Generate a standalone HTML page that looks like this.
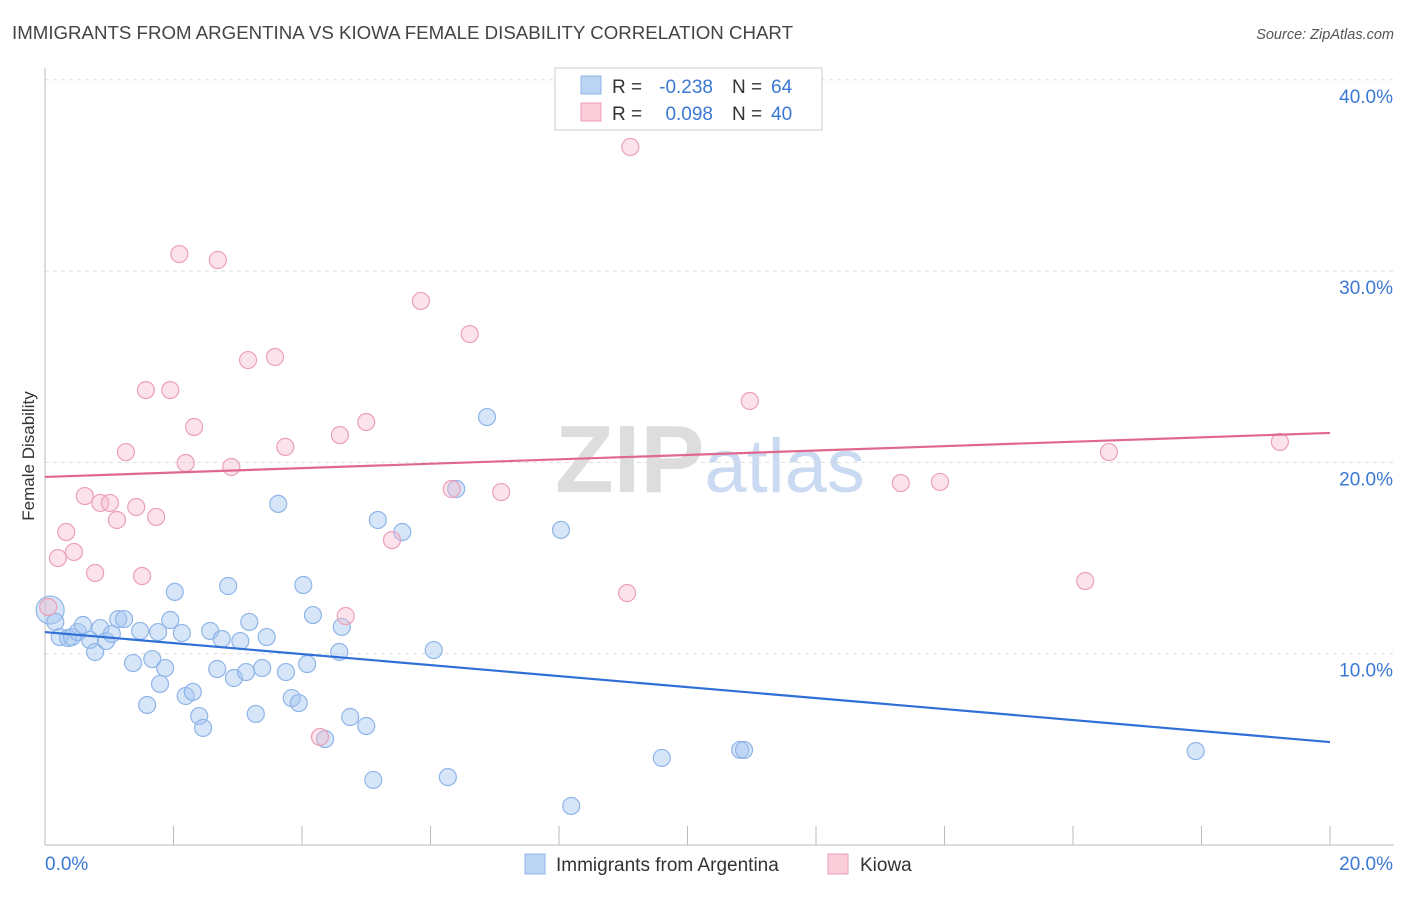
<!DOCTYPE html>
<html><head><meta charset="utf-8"><style>
body{margin:0;background:#fff;font-family:"Liberation Sans",sans-serif;}
svg text{font-family:"Liberation Sans",sans-serif;}
</style></head><body>
<svg id="chart" width="1406" height="892" viewBox="0 0 1406 892" xmlns="http://www.w3.org/2000/svg">
<text x="12" y="39" font-size="18" fill="#444" textLength="781" lengthAdjust="spacingAndGlyphs">IMMIGRANTS FROM ARGENTINA VS KIOWA FEMALE DISABILITY CORRELATION CHART</text>
<text x="1394" y="39" font-size="14.5" fill="#555" font-style="italic" text-anchor="end">Source: ZipAtlas.com</text>
<text x="555" y="492" font-size="96" fill="#ddd" font-family="Liberation Serif" font-weight="bold">ZIP<tspan fill="#c9daf2" font-family="Liberation Sans" font-weight="normal" font-size="76">atlas</tspan></text>
<g id="grid"></g>
<g id="axes"></g>
<g id="marks"></g>
<text transform="translate(34,456) rotate(-90)" font-size="17" fill="#333" text-anchor="middle">Female Disability</text>
<g font-size="19">
<rect x="555" y="68" width="267" height="62" fill="#fff" stroke="#ccc"/>
<rect x="581" y="76" width="20" height="18" fill="#bcd4f4" stroke="#8fb5e8"/>
<text x="612" y="93" fill="#333">R =</text>
<text x="713" y="93" fill="#3a78d4" text-anchor="end">-0.238</text>
<text x="732" y="93" fill="#333">N =</text>
<text x="771" y="93" fill="#3a78d4">64</text>
<rect x="581" y="103" width="20" height="18" fill="#f9cdd9" stroke="#eba0b8"/>
<text x="612" y="120" fill="#333">R =</text>
<text x="713" y="120" fill="#3a78d4" text-anchor="end">0.098</text>
<text x="732" y="120" fill="#333">N =</text>
<text x="771" y="120" fill="#3a78d4">40</text>
</g>
<g>
<rect x="525" y="854" width="20" height="20" fill="#bcd4f4" stroke="#8fb5e8"/>
<text x="556" y="871" font-size="19" fill="#333">Immigrants from Argentina</text>
<rect x="828" y="854" width="20" height="20" fill="#f9cdd9" stroke="#eba0b8"/>
<text x="860" y="871" font-size="19" fill="#333">Kiowa</text>
</g>
</svg>
<script>
const blueX=[0.08,0.16,0.23,0.36,0.42,0.51,0.59,0.70,0.78,0.86,0.95,1.04,1.14,1.23,1.37,1.48,1.59,1.67,1.76,1.79,1.87,1.95,2.02,2.13,2.19,2.30,2.40,2.46,2.57,2.68,2.75,2.85,2.94,3.04,3.13,3.18,3.28,3.38,3.45,3.63,3.75,3.84,3.95,4.02,4.08,4.17,4.36,4.58,4.62,4.75,5.00,5.11,5.18,5.56,6.05,6.27,6.40,6.88,8.03,8.19,9.60,10.82,10.88,17.91];
const blueY=[12.28,11.66,10.87,10.82,10.87,11.13,11.50,10.72,10.09,11.34,10.66,11.03,11.81,11.81,9.51,11.19,7.32,9.72,11.13,8.42,9.25,11.76,13.23,11.08,7.79,8.00,6.74,6.12,11.19,9.20,10.77,13.54,8.73,10.66,9.04,11.66,6.85,9.25,10.87,17.83,9.04,7.68,7.42,13.59,9.46,12.02,5.54,10.09,11.40,6.69,6.22,3.40,16.99,16.36,10.19,3.55,18.61,22.37,16.47,2.04,4.55,4.97,4.97,4.91];
const pinkX=[0.05,0.20,0.33,0.45,0.62,0.78,0.86,1.01,1.12,1.26,1.42,1.51,1.57,1.73,1.95,2.09,2.19,2.32,2.69,2.90,3.16,3.58,3.74,4.28,4.59,4.68,5.00,5.40,5.85,6.33,6.61,7.10,9.06,9.11,10.97,13.32,13.93,16.19,16.56,19.22];
const pinkY=[12.44,15.00,16.36,15.32,18.24,14.22,17.88,17.88,16.99,20.54,17.67,14.06,23.78,17.15,23.78,30.89,19.97,21.85,30.58,19.76,25.35,25.51,20.81,5.65,21.43,11.97,22.11,15.94,28.44,18.61,26.71,18.45,13.17,36.49,23.21,18.92,18.98,13.80,20.54,21.07];
const blueTrend=[11.13,5.38];
const pinkTrend=[19.24,21.54];
const yTicks=[10,20,30,40];
const yTickLabels=["10.0%","20.0%","30.0%","40.0%"];
const xTickLabels=["0.0%","20.0%"];
const NS="http://www.w3.org/2000/svg";
const X0=45,X1=1330,Y0=845,YPER=19.13;
const sx=v=>X0+(v/20)*(X1-X0);
const sy=v=>Y0-v*YPER;
function mk(tag,attrs,parent){const e=document.createElementNS(NS,tag);for(const k in attrs)e.setAttribute(k,attrs[k]);parent.appendChild(e);return e;}
const grid=document.getElementById('grid'),axes=document.getElementById('axes'),marks=document.getElementById('marks');
yTicks.forEach((t,i)=>{
 const l=mk('line',{x1:X0,x2:1394,y1:sy(t),y2:sy(t),stroke:'#ddd','stroke-dasharray':'4,4'},grid);
 
 
 const tx=mk('text',{x:1393,y:sy(t)+23,'font-size':19,fill:'#3a78d4','text-anchor':'end'},axes);
 tx.textContent=yTickLabels[i];
 
 
});
const ya=mk('line',{x1:X0,x2:X0,y1:68,y2:Y0,stroke:'#bbb'},axes);


const xa=mk('line',{x1:X0,x2:1394,y1:Y0,y2:Y0,stroke:'#bbb'},axes);


for(let i=0;i<=10;i++){
 const t=mk('line',{x1:sx(i*2),x2:sx(i*2),y1:826,y2:Y0,stroke:'#bbb'},axes);
 
 
}
const xl0=mk('text',{x:45,y:870,'font-size':19,fill:'#3a78d4'},axes);xl0.textContent=xTickLabels[0];


const xl1=mk('text',{x:1393,y:870,'font-size':19,fill:'#3a78d4','text-anchor':'end'},axes);xl1.textContent=xTickLabels[1];


blueX.forEach((x,i)=>{
 const c=mk('circle',{cx:sx(x),cy:sy(blueY[i]),r:i===0?14:8.5,fill:'rgba(165,198,240,0.45)',stroke:'#8fb5e8','stroke-width':1.2},marks);
 
 
});
pinkX.forEach((x,i)=>{
 const c=mk('circle',{cx:sx(x),cy:sy(pinkY[i]),r:8.5,fill:'rgba(247,185,205,0.4)',stroke:'#eba0b8','stroke-width':1.2},marks);
 
 
});
const bl=mk('line',{x1:sx(0),x2:sx(20),y1:sy(blueTrend[0]),y2:sy(blueTrend[1]),stroke:'#2f6fd6','stroke-width':2.2},marks);


const pl=mk('line',{x1:sx(0),x2:sx(20),y1:sy(pinkTrend[0]),y2:sy(pinkTrend[1]),stroke:'#e0688f','stroke-width':2.2},marks);


</script>
</body></html>
